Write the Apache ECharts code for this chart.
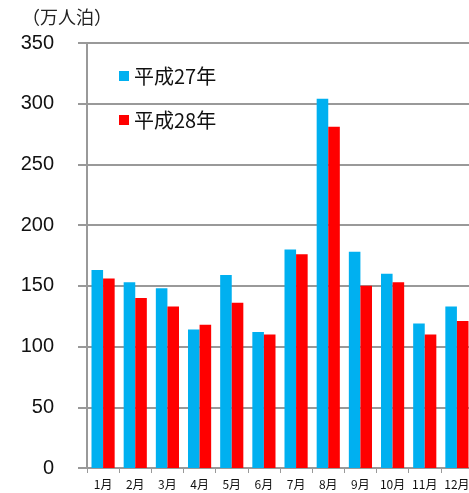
<!DOCTYPE html>
<html><head><meta charset="utf-8">
<script src="https://cdn.jsdelivr.net/npm/echarts@6/dist/echarts.min.js"></script>
<style>html,body{margin:0;padding:0;background:#fff;overflow:hidden}#c{width:476px;height:493px}</style>
</head><body><div id="c"></div>
<script>
const categories = ['1月','2月','3月','4月','5月','6月','7月','8月','9月','10月','11月','12月'];
const seriesNames = ['平成27年','平成28年'];
const h27 = [163,153,148,114,159,112,180,304,178,160,119,133];
const h28 = [156,140,133,118,136,110,176,281,150,153,110,121];
const unitLabel = '（万人泊）';

const chart = echarts.init(document.getElementById('c'));
chart.setOption({
  animation:false,
  textStyle:{fontFamily:'"Liberation Sans","Noto Sans CJK JP",sans-serif'},
  graphic:[{type:'text',left:22,top:8,style:{text:unitLabel,font:'18px "Noto Sans CJK JP", sans-serif',fill:'#222'}}],
  legend:{
    orient:'vertical',left:114,top:61,itemWidth:10,itemHeight:10,itemGap:24,
    icon:'rect',
    textStyle:{fontSize:20,color:'#111',fontFamily:'"Noto Sans CJK JP","Liberation Sans",sans-serif'},
    data:seriesNames
  },
  grid:{left:87,top:43,bottom:25,width:386,containLabel:false},
  xAxis:{
    type:'category',data:categories,
    axisLine:{lineStyle:{color:'#999',width:2}},
    axisTick:{show:true,length:5,lineStyle:{color:'#999',width:1}},
    axisLabel:{fontSize:12,color:'#111',margin:10,interval:0,fontFamily:'"Noto Sans CJK JP",sans-serif'}
  },
  yAxis:{
    type:'value',min:0,max:350,interval:50,
    axisLine:{show:true,lineStyle:{color:'#999',width:2}},
    axisTick:{show:true,length:9,lineStyle:{color:'#999',width:2}},
    splitLine:{lineStyle:{color:'#999',width:2}},
    axisLabel:{fontSize:20,color:'#111',margin:33}
  },
  series:[
    {name:seriesNames[0],type:'bar',data:h27,barWidth:'36%',barGap:'0%',itemStyle:{color:'#00B0F0'}},
    {name:seriesNames[1],type:'bar',data:h28,barWidth:'36%',barGap:'0%',itemStyle:{color:'#FF0000'}}
  ]
});
</script></body></html>
